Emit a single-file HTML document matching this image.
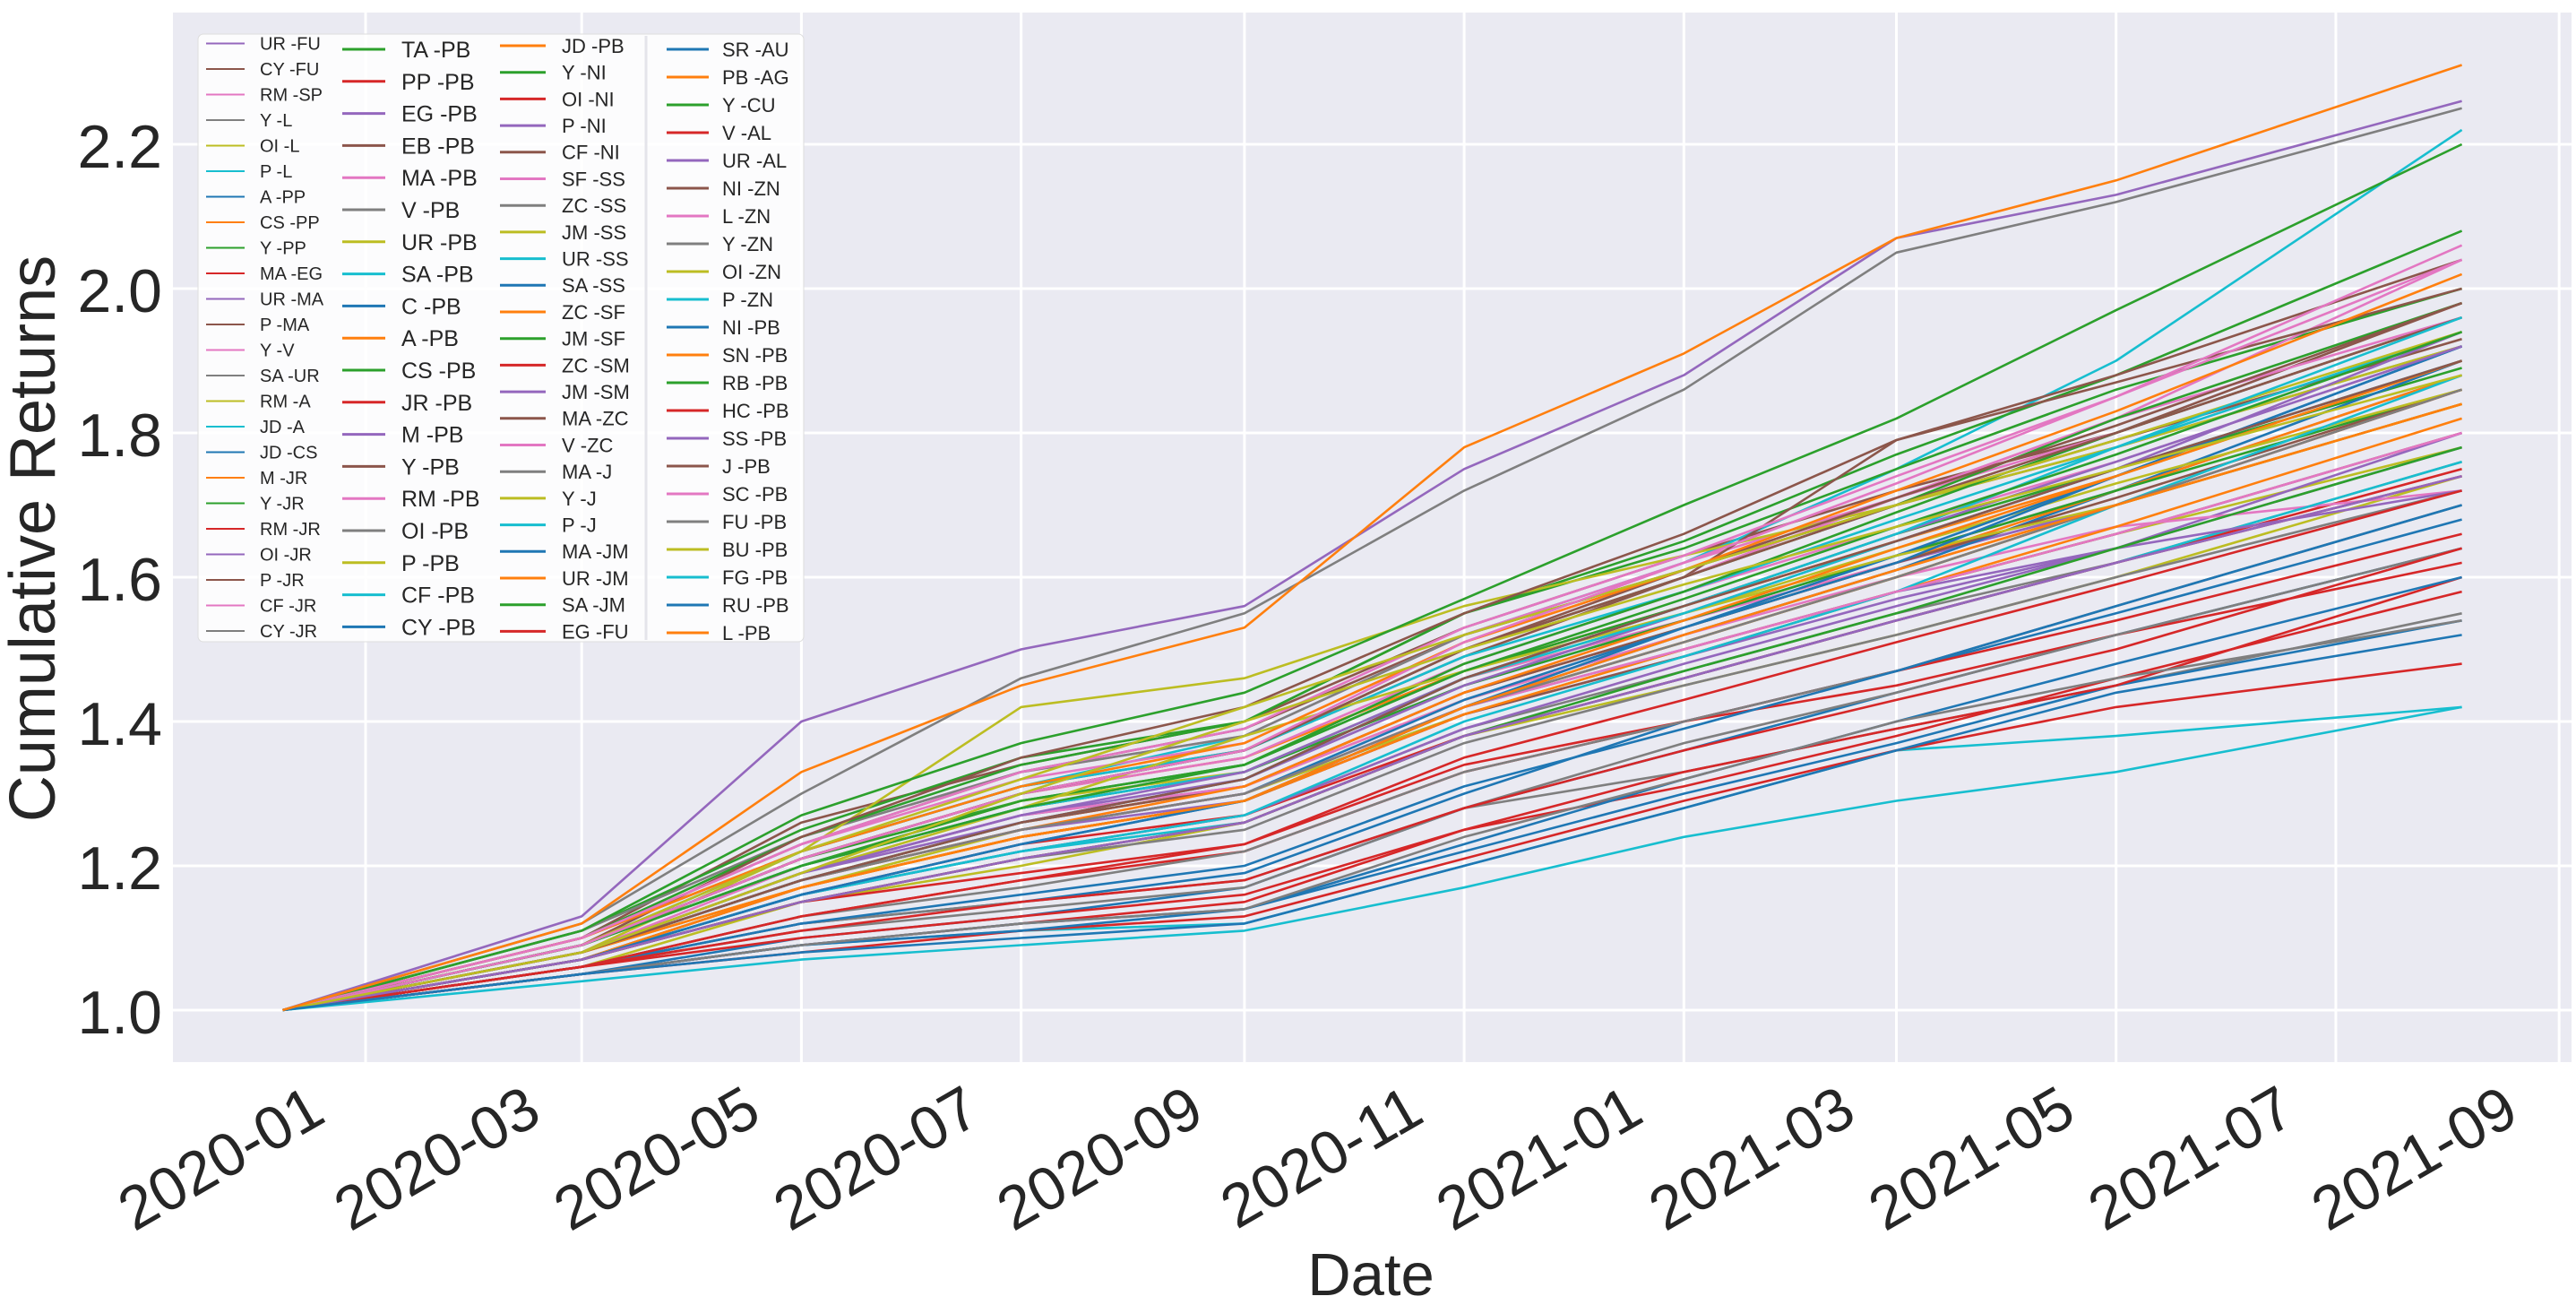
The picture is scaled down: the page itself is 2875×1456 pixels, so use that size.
<!DOCTYPE html>
<html><head><meta charset="utf-8"><title>Cumulative Returns</title>
<style>
html,body{margin:0;padding:0;background:#fff;}
svg{display:block;font-family:"Liberation Sans",Arial,sans-serif;}
</style></head>
<body>
<svg id="chart" width="2875" height="1456" viewBox="0 0 2875 1456" xmlns="http://www.w3.org/2000/svg">
  <rect x="193" y="14" width="2677" height="1171" fill="#eaeaf2"/>
  <g id="grid"></g>
  <g id="series"></g>
  <g id="yticks" font-size="68" fill="#262626"></g>
  <g id="xticks" font-size="68" fill="#262626"></g>
  <text x="0" y="0" font-size="72" fill="#262626" text-anchor="middle" transform="translate(61,601) rotate(-90)">Cumulative Returns</text>
  <text x="1530" y="1445" font-size="67" fill="#262626" text-anchor="middle">Date</text>
  <g id="legend"></g>
</svg>
<script>
const dates = ["2019-12-09","2020-03-01","2020-05-01","2020-07-01","2020-09-01","2020-11-01","2021-01-01","2021-03-01","2021-05-01","2021-08-05"];
const yTicks = [1.0,1.2,1.4,1.6,1.8,2.0,2.2];
const xTicks = ["2020-01","2020-03","2020-05","2020-07","2020-09","2020-11","2021-01","2021-03","2021-05","2021-07","2021-09"];
const palette = ["#1f77b4","#ff7f0e","#2ca02c","#d62728","#9467bd","#8c564b","#e377c2","#7f7f7f","#bcbd22","#17becf"];
const col1Names = ["UR -FU","CY -FU","RM -SP","Y -L","OI -L","P -L","A -PP","CS -PP","Y -PP","MA -EG","UR -MA","P -MA","Y -V","SA -UR","RM -A","JD -A","JD -CS","M -JR","Y -JR","RM -JR","OI -JR","P -JR","CF -JR","CY -JR"];
const col2Names = ["TA -PB","PP -PB","EG -PB","EB -PB","MA -PB","V -PB","UR -PB","SA -PB","C -PB","A -PB","CS -PB","JR -PB","M -PB","Y -PB","RM -PB","OI -PB","P -PB","CF -PB","CY -PB"];
const col3Names = ["JD -PB","Y -NI","OI -NI","P -NI","CF -NI","SF -SS","ZC -SS","JM -SS","UR -SS","SA -SS","ZC -SF","JM -SF","ZC -SM","JM -SM","MA -ZC","V -ZC","MA -J","Y -J","P -J","MA -JM","UR -JM","SA -JM","EG -FU"];
const col4Names = ["SR -AU","PB -AG","Y -CU","V -AL","UR -AL","NI -ZN","L -ZN","Y -ZN","OI -ZN","P -ZN","NI -PB","SN -PB","RB -PB","HC -PB","SS -PB","J -PB","SC -PB","FU -PB","BU -PB","FG -PB","RU -PB","L -PB"];
const colStart = [4,2,1,0];
// cumulative return values (x100 above 1.0) at each date, per series
const col1Values = [
[0,13,40,50,56,75,88,107,113,126],[0,10,26,34,40,53,63,72,80,98],[0,8,20,28,33,46,54,62,70,86],[0,12,30,46,55,72,86,105,112,125],
[0,7,17,25,30,41,50,58,66,78],[0,9,22,31,38,52,62,75,90,122],[0,6,12,15,19,30,40,47,55,68],[0,9,21,30,35,47,56,65,74,90],
[0,11,25,35,40,55,64,75,86,100],[0,7,16,23,27,38,46,54,62,75],[0,8,19,27,32,45,54,63,72,88],[0,10,23,33,39,52,61,70,79,93],
[0,9,24,33,38,52,62,71,80,96],[0,11,24,33,38,52,61,70,78,92],[0,6,15,20,26,38,45,52,60,74],[0,5,9,11,12,20,28,36,38,42],
[0,5,10,13,17,28,36,44,52,64],[0,8,18,26,31,43,52,61,70,84],[0,9,21,29,34,47,56,66,75,89],[0,7,15,19,23,34,40,45,52,62],
[0,8,18,25,29,41,49,57,64,78],[0,7,17,24,29,41,49,58,66,80],[0,9,21,30,35,48,58,67,76,92],[0,6,12,15,18,28,33,39,45,55]];
const col2Values = [
[0,10,24,34,40,55,65,77,88,108],[0,6,13,18,22,33,40,47,54,66],[0,8,19,27,31,44,53,62,70,84],[0,10,22,31,36,49,60,79,88,104],
[0,9,21,30,36,50,60,71,82,104],[0,7,16,22,27,39,47,55,62,76],[0,8,22,42,46,56,63,70,78,92],[0,9,22,31,36,49,58,68,78,94],
[0,7,16,23,29,42,52,61,72,90],[0,8,18,26,31,44,53,62,72,88],[0,9,20,28,33,45,54,63,72,86],[0,5,9,12,15,25,31,38,46,58],
[0,7,16,22,27,39,48,56,64,80],[0,8,18,26,31,44,53,62,71,86],[0,8,19,27,31,43,52,60,67,72],[0,6,13,17,22,33,40,47,56,70],
[0,9,20,29,33,46,55,64,73,86],[0,7,16,22,26,38,46,54,62,76],[0,6,12,16,20,31,39,47,56,70]];
const col3Values = [
[0,8,17,24,29,41,50,58,67,82],[0,9,20,29,34,48,58,69,80,96],[0,5,8,11,13,21,29,36,42,48],[0,8,18,25,30,42,50,58,64,72],
[0,9,24,35,42,55,66,79,87,100],[0,10,23,32,37,51,61,71,82,96],[0,7,15,21,25,37,45,52,60,72],[0,8,17,24,29,42,51,60,70,84],
[0,7,16,22,27,40,49,58,70,88],[0,8,18,25,30,43,53,63,74,92],[0,7,17,24,29,42,51,60,70,86],[0,9,21,30,36,50,60,70,82,98],
[0,6,13,18,23,35,43,51,59,72],[0,8,19,26,32,45,55,65,75,94],[0,9,21,30,36,50,61,71,81,98],[0,8,18,25,30,42,50,58,66,80],
[0,6,11,14,17,28,37,44,52,64],[0,8,19,28,38,47,55,63,70,84],[0,9,20,28,33,46,55,65,75,90],[0,5,9,12,14,22,30,37,45,54],
[0,10,22,31,37,51,61,72,83,102],[0,7,15,21,26,38,47,55,64,78],[0,6,10,13,16,25,33,39,45,60]];
const col4Values = [
[0,7,16,23,29,42,53,62,74,92],[0,8,18,25,31,44,54,64,74,90],[0,11,27,37,44,57,70,82,97,120],[0,7,15,21,26,38,46,54,62,74],
[0,8,19,27,33,46,56,66,76,92],[0,9,21,30,36,50,60,70,80,96],[0,10,23,33,39,53,63,74,85,106],[0,8,18,25,30,42,51,60,70,86],
[0,9,22,32,42,52,61,70,79,94],[0,8,18,26,32,46,56,66,78,96],[0,5,9,11,14,23,32,40,48,60],[0,8,17,24,29,42,52,61,70,84],
[0,9,20,28,34,47,57,67,77,94],[0,6,11,15,18,28,36,43,50,64],[0,7,15,21,26,38,46,54,62,74],[0,8,18,26,32,46,56,65,75,90],
[0,9,21,30,36,51,62,73,85,104],[0,5,9,12,14,24,32,40,46,54],[0,8,19,30,40,50,59,67,75,88],[0,4,7,9,11,17,24,29,33,42],
[0,5,8,10,12,20,28,36,44,52],[0,12,33,45,53,78,91,107,115,131]];

const NS = "http://www.w3.org/2000/svg";
const PL = 193, PR = 2870, PT = 14, PB = 1185;
const X0 = Date.UTC(2020,0,1), PXDAY = 4.02, X0PX = 408;
function parseDate(s){ const p = s.split("-").map(Number); return Date.UTC(p[0], p[1]-1, p[2]||1); }
function xScale(s){ return X0PX + (parseDate(s) - X0) / 86400000 * PXDAY; }
function yScale(v){ return 1127 - (v - 1) * 805; }
function mk(tag, attrs, parent){ const e = document.createElementNS(NS, tag); for (const k in attrs) e.setAttribute(k, attrs[k]); parent.appendChild(e); return e; }

const grid = document.getElementById("grid");
yTicks.forEach(t => {
  const l = mk("line", {x1:PL, x2:PR, y1:yScale(t), y2:yScale(t), stroke:"#ffffff", "stroke-width":3}, grid);
  
  
  const tx = mk("text", {x:181, y:yScale(t)+26, "text-anchor":"end"}, document.getElementById("yticks"));
  tx.textContent = t.toFixed(1);
  
  
});
xTicks.forEach(t => {
  const x = xScale(t + "-01");
  const l = mk("line", {x1:x, x2:x, y1:PT, y2:PB, stroke:"#ffffff", "stroke-width":3}, grid);
  
  
  const ax = x - 42, ay = 1250;
  const tx = mk("text", {x:ax, y:ay, "text-anchor":"end", transform:"rotate(-30 " + ax + " " + ay + ")"}, document.getElementById("xticks"));
  tx.textContent = t;
  
  
});

const cols = [[col1Names,col1Values],[col2Names,col2Values],[col3Names,col3Values],[col4Names,col4Values]];
const seriesG = document.getElementById("series");
cols.forEach((c, ci) => {
  c[1].forEach((vals, i) => {
    const color = palette[(colStart[ci] + i) % 10];
    const pts = vals.map((v, j) => xScale(dates[j]).toFixed(1) + "," + yScale(1 + v/100).toFixed(1)).join(" ");
    const pl = mk("polyline", {points:pts, fill:"none", stroke:color, "stroke-width":2.6, "stroke-linejoin":"round"}, seriesG);
    
    
  });
});

const lg = document.getElementById("legend");
const box = mk("rect", {x:221, y:38, width:676, height:678, rx:6, fill:"#ffffff", "fill-opacity":0.85, stroke:"#dddddd", "stroke-width":1}, lg);


const sep = mk("line", {x1:721, x2:721, y1:40, y2:714, stroke:"#e4e4ea", "stroke-width":3}, lg);


const colLayout = [
  {lx:230, lw:43, tx:290, y0:48.5, dy:28.5, fs:20, sw:2},
  {lx:382, lw:48, tx:448, y0:55, dy:35.8, fs:25, sw:3},
  {lx:558, lw:51, tx:627, y0:51, dy:29.7, fs:22, sw:3},
  {lx:744, lw:47, tx:806, y0:55, dy:31, fs:22, sw:3}
];
cols.forEach((c, ci) => {
  const L = colLayout[ci];
  c[0].forEach((name, i) => {
    const y = L.y0 + i * L.dy;
    const color = palette[(colStart[ci] + i) % 10];
    const ln = mk("line", {x1:L.lx, x2:L.lx+L.lw, y1:y, y2:y, stroke:color, "stroke-width":L.sw}, lg);
    
    
    const t = mk("text", {x:L.tx, y:y + L.fs*0.36, "font-size":L.fs, fill:"#262626"}, lg);
    t.textContent = name;
    
    
  });
});
</script>
</body></html>
